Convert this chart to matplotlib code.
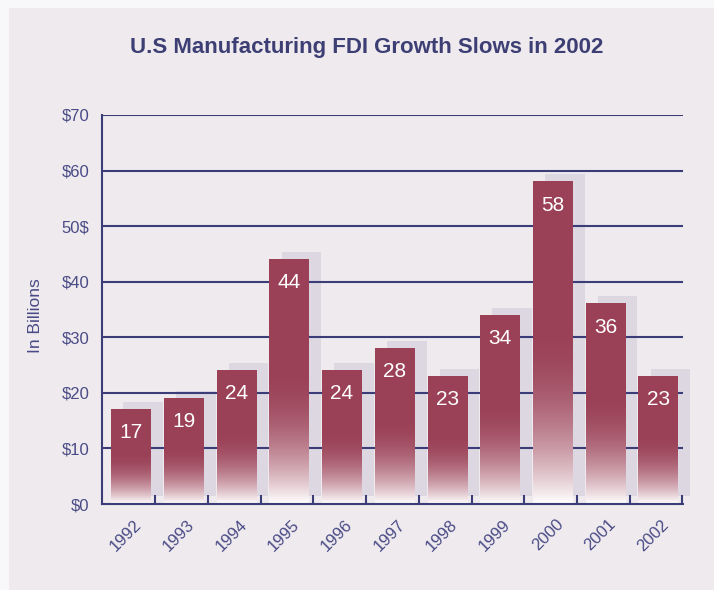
import numpy as np
import matplotlib
matplotlib.use('Agg')
import matplotlib.pyplot as plt
from matplotlib.patches import Rectangle
from matplotlib.transforms import ScaledTranslation

# dane
lata = ['1992', '1993', '1994', '1995', '1996', '1997', '1998', '1999', '2000', '2001', '2002']
wartosci = [17, 19, 24, 44, 24, 28, 23, 34, 58, 36, 23]
etykiety_y = ['$0', '$10', '$20', '$30', '$40', '50$', '$60', '$70']
wartosci_y = [0, 10, 20, 30, 40, 50, 60, 70]

granat = '#3b3d78'
granat_tekst = '#4a4b86'
bordo = np.array([0x9b, 0x41, 0x57]) / 255
tlo = '#eeeaee'
cien = '#dcd7e0'

plt.rcParams['font.family'] = ['Liberation Sans', 'DejaVu Sans']

fig = plt.figure(figsize=(7.14, 5.9), dpi=100)
fig.patch.set_facecolor('#f8f8fb')
fig.add_artist(Rectangle((9 / 714, 0), 1, 1 - 8 / 590, transform=fig.transFigure,
                         facecolor=tlo, edgecolor='none', zorder=-10))

ax = fig.add_axes([101.7 / 714, 86 / 590, (683 - 101.7) / 714, (504 - 115) / 590])
ax.set_facecolor(tlo)

szer = 0.75
dx = 0.23
dy = 1.35

# gradient: pelny kolor u gory, plynne rozjasnienie do bieli w dolnej czesci slupka
n = 300
frac = np.linspace(0, 1, n)
x = np.clip(frac / 0.55, 0, 1)
t = x * (2 - x)
grad = np.ones((n, 1, 3)) * (1 - t)[:, None, None] + bordo[None, None, :] * t[:, None, None]

for i, v in enumerate(wartosci):
    ax.add_patch(Rectangle((i - szer / 2 + dx, dy), szer, v, facecolor=cien,
                           edgecolor='none', zorder=0.3, clip_on=False))
    ax.imshow(grad, extent=[i - szer / 2, i + szer / 2, 0, v], origin='lower',
              aspect='auto', zorder=2, interpolation='bilinear')
    ax.text(i, v - 4.2, str(v), ha='center', va='center', color='white',
            fontsize=15, zorder=4)

ax.set_xlim(-0.557, 10.47)
ax.set_ylim(0, 70)

for y in wartosci_y[1:]:
    ax.axhline(y, color=granat, lw=1.5, zorder=0.8)

for s in ['top', 'right']:
    ax.spines[s].set_visible(False)
for s in ['left', 'bottom']:
    ax.spines[s].set_color(granat)
    ax.spines[s].set_linewidth(1.5)
    ax.spines[s].set_zorder(5)

ax.set_yticks(wartosci_y)
ax.set_yticklabels(etykiety_y, fontsize=12, color=granat_tekst)
ax.tick_params(axis='y', length=0, pad=9)

ax.set_xticks(np.arange(len(lata)) + 0.46)
ax.set_xticklabels([])
ax.tick_params(axis='x', direction='in', length=6.5, width=1.5, color=granat)

przes = ScaledTranslation(8 / 100, -18 / 100, fig.dpi_scale_trans)
for i, rok in enumerate(lata):
    ax.text(i, 0, rok, transform=ax.get_xaxis_transform() + przes, rotation=45,
            ha='right', va='center', rotation_mode='anchor', fontsize=12,
            color=granat_tekst)

fig.text(36 / 714, 1 - 316 / 590, 'In Billions', rotation=90, ha='center', va='center',
         fontsize=12.5, color=granat_tekst)

fig.text(366.5 / 714, 1 - 48 / 590, 'U.S Manufacturing FDI Growth Slows in 2002',
         ha='center', va='center', fontsize=16, fontweight='bold', color='#3d3f74')

plt.savefig('out.png', dpi=100, facecolor=fig.get_facecolor())
